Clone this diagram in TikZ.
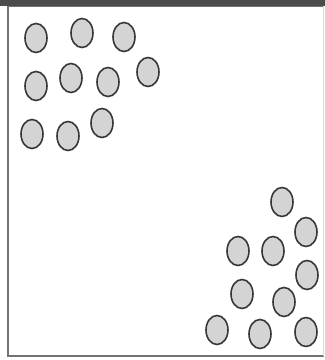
\documentclass[tikz,border=0pt]{standalone}
\usepackage{tikz}
\usetikzlibrary{positioning}
\usetikzlibrary{shapes.geometric}
\definecolor{ballfill}{RGB}{212,212,212}
\definecolor{ballline}{RGB}{55,55,55}
\tikzstyle{ball} = [ellipse, draw=ballline, fill=ballfill, line width=1.6pt,
minimum width=22pt, minimum height=29pt, inner sep=0pt]
\tikzstyle{frame} = [draw=black!55, line width=1.6pt]

\begin{document}
\begin{tikzpicture}[x=1pt, y=-1pt]
			\useasboundingbox (0,0) rectangle (325,360);
			% box
			\draw [frame] (324,356) -- (8,356) -- (8,6) -- (324,6);
			\draw [black!15, line width=1pt] (324,6) -- (324,356);
			\fill [black!70] (0,0) rectangle (325,6);
			% upper left group
			\foreach \i/\x/\y in {1/36/38, 2/82/33, 3/124/37, 4/36/86, 5/71/78,
			                      6/108/82, 7/148/72, 8/32/134, 9/68/136, 10/102/123}
			    \node [ball] (a\i) at (\x,\y) {};
			% lower right group
			\foreach \i/\x/\y in {1/282/202, 2/306/232, 3/238/251, 4/273/251, 5/307/275,
			                      6/242/294, 7/284/302, 8/217/330, 9/260/334, 10/306/332}
			    \node [ball] (b\i) at (\x,\y) {};
			\end{tikzpicture}
\end{document}
